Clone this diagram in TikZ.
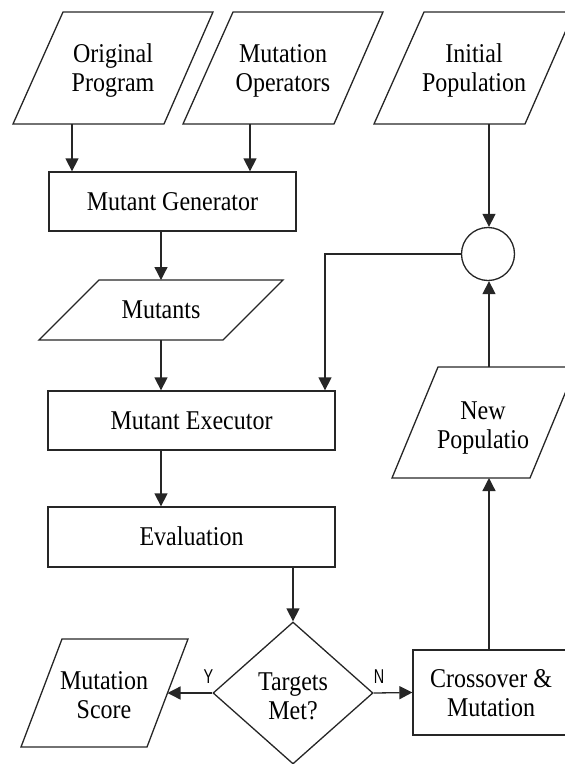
\documentclass[tikz,border=0pt]{standalone}
\usepackage{fontspec}
\setmainfont{Liberation Serif}
\newfontfamily\labelfont{Liberation Sans}
\usetikzlibrary{arrows.meta,shapes.geometric}
% slightly tall serif lettering, centred lines
\newcommand{\flowtext}[1]{\scalebox{1}[1.13]{\rmfamily\fontsize{24}{25.7}\selectfont\begin{tabular}{@{}c@{}}#1\end{tabular}}}
% narrow sans branch letters
\newcommand{\branchtext}[1]{\scalebox{0.72}[1]{\labelfont\fontsize{20}{20}\selectfont #1}}

\begin{document}
\begin{tikzpicture}[x=1pt,y=-1pt,
  line/.style={draw=black!85, line width=1.3pt},
  arr/.style={line, -{Triangle[length=13pt,width=13pt]}},
  txt/.style={align=center, inner sep=0pt},
  proc/.style={line, rectangle, txt},
  iobox/.style={line, line join=miter},
  yn/.style={inner sep=0pt, text=black}
]
\useasboundingbox (0,0) rectangle (565,764);

% input / output parallelograms
\draw[iobox] (63,12) -- (213,12) -- (164,124) -- (13,124) -- cycle;
\node[txt] (orig) at (113,71) {\flowtext{Original\\Program}};
\coordinate (orig-out) at (72,124);

\draw[iobox] (233,12) -- (383,12) -- (334,124) -- (183,124) -- cycle;
\node[txt] (ops) at (283,71) {\flowtext{Mutation\\Operators}};
\coordinate (ops-out) at (250,124);

\draw[iobox] (424,12) -- (574,12) -- (525,124) -- (374,124) -- cycle;
\node[txt] (init) at (474,71) {\flowtext{Initial\\Population}};
\coordinate (init-out) at (489,124);

\draw[iobox] (99,280) -- (283,280) -- (223,340) -- (39,340) -- cycle;
\node[txt] (mut) at (161,313) {\flowtext{Mutants}};
\coordinate (mut-in) at (161,280);
\coordinate (mut-out) at (161,340);

\draw[iobox] (438,367) -- (576,367) -- (530,478) -- (392,478) -- cycle;
\node[txt] (newpop) at (483,428) {\flowtext{New\\Populatio}};
\coordinate (new-in) at (489,478);
\coordinate (new-out) at (489,367);

\draw[iobox] (62,639) -- (188,639) -- (147,747) -- (21,747) -- cycle;
\node[txt] (score) at (104,698) {\flowtext{Mutation\\Score}};
\coordinate (score-in) at (167.5,693);

% process boxes
\node[proc, minimum width=247pt, minimum height=59pt] (gen) at (172.5,201.5) {};
\node[txt] (genlabel) at (gen.center) [yshift=-3pt] {\flowtext{Mutant Generator}};
\node[proc, minimum width=287pt, minimum height=59pt] (exec) at (191.5,420.5) {};
\node[txt] (execlabel) at (exec.center) [yshift=-3pt] {\flowtext{Mutant Executor}};
\node[proc, minimum width=287pt, minimum height=60pt] (eval) at (191.5,537) {};
\node[txt] (evallabel) at (eval.center) [yshift=-3pt] {\flowtext{Evaluation}};
\node[proc, minimum width=157pt, minimum height=85pt] (cross) at (491.5,692.5) {};
\node[txt] (crosslabel) at (491,696) {\flowtext{Crossover \&\\Mutation}};

% merge point and decision
\node[line, circle, minimum size=53pt, inner sep=0pt] (join) at (488,254) {};
\node[line, diamond, txt, minimum width=160pt, minimum height=142pt] (test) at (293,693) {};
\node[txt] (testlabel) at (293,699) {\flowtext{Targets\\Met?}};

% flow
\draw[arr] (orig-out) -- (orig-out |- gen.north);
\draw[arr] (ops-out) -- (ops-out |- gen.north);
\draw[arr] (mut-in |- gen.south) -- (mut-in);
\draw[arr] (mut-out) -- (mut-out |- exec.north);
\draw[arr] (init-out) -- (init-out |- join.north);
\coordinate (fb) at (325,254);
\draw[arr] (join.west) -- (fb) -- (fb |- exec.north);
\draw[arr] (mut-out |- exec.south) -- (mut-out |- eval.north);
\draw[arr] (test.north |- eval.south) -- (test.north);
\draw[arr] (test.west) -- (score-in);
\draw[arr] (test.east) -- (cross.west);
\draw[arr] (new-in |- cross.north) -- (new-in);
\draw[arr] (new-out) -- (new-out |- join.south);

\node[yn] (ylab) at (208.5,677) {\branchtext{Y}};
\node[yn] (nlab) at (379,677) {\branchtext{N}};
\end{tikzpicture}
\end{document}
